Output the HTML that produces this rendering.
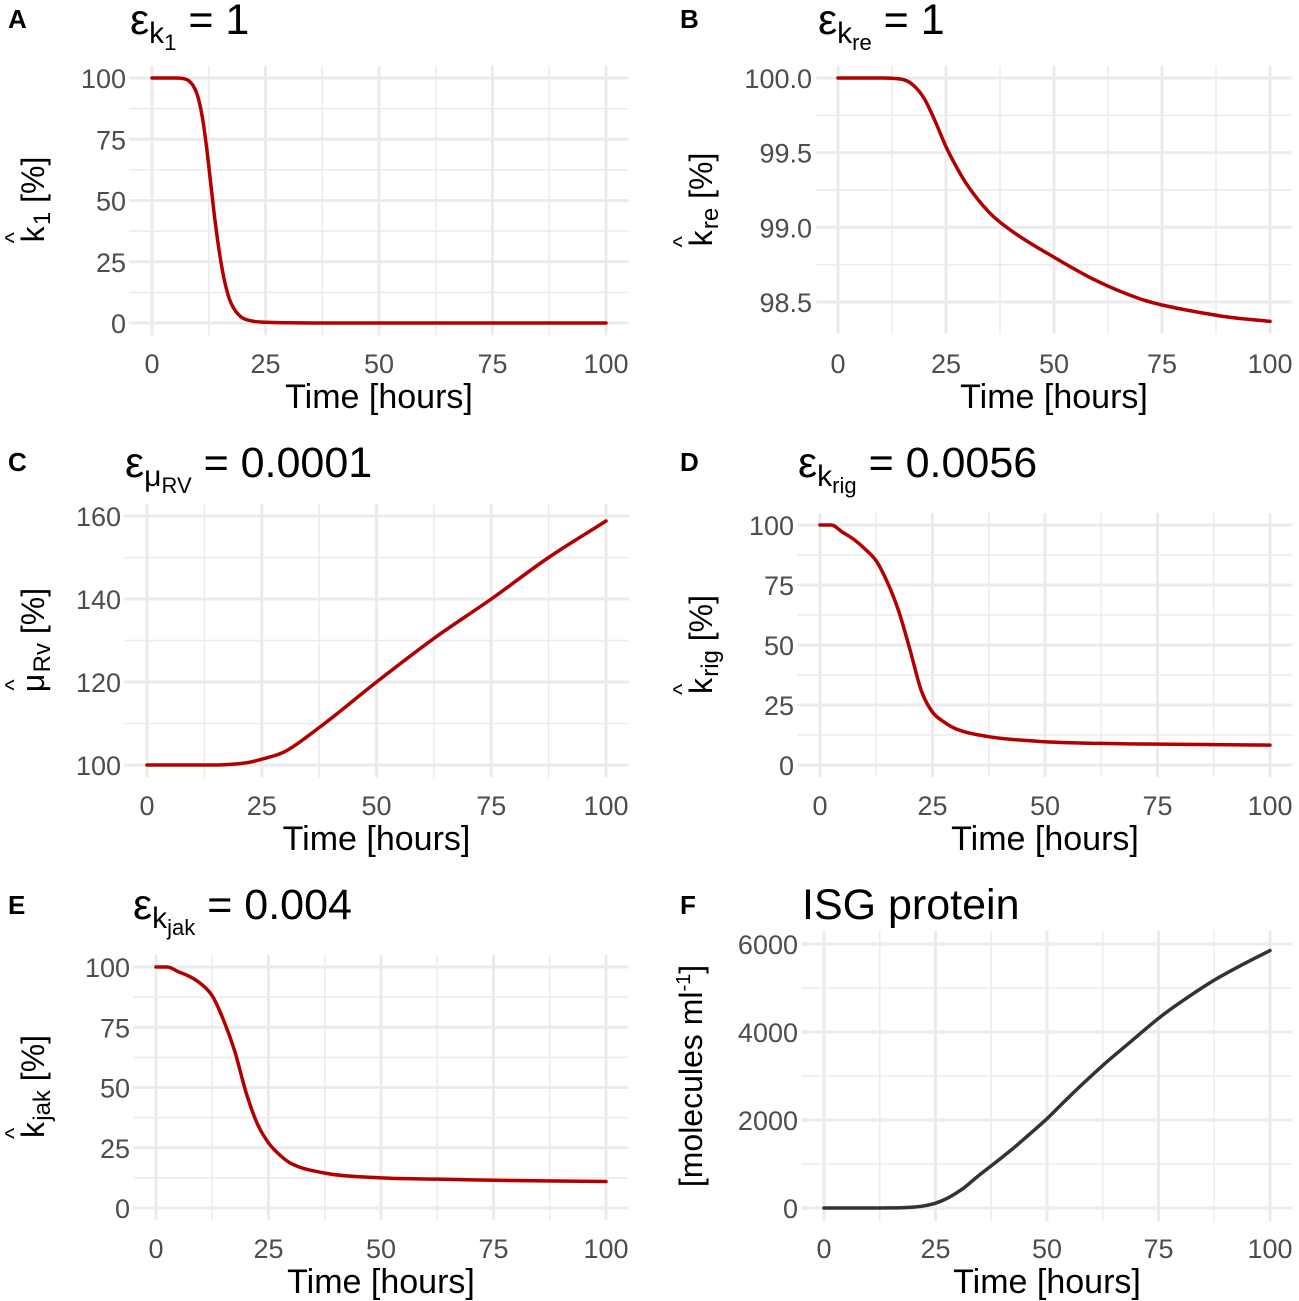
<!DOCTYPE html>
<html><head><meta charset="utf-8"><style>
body{margin:0;background:#fff}
svg{display:block;font-family:"Liberation Sans",sans-serif}
</style></head><body>
<svg id="c" width="1299" height="1301" viewBox="0 0 1299 1301"></svg>
<script>
const timesA=[0,5,7,8,9,10,11,12,13,14,15,16,17,18,19,20,22,25,30,40,100];
const valsA=[100,100,99.7,99,97,93,85,72,56,40,27,17,10,6,3.5,2,0.8,0.3,0.1,0,0];
const timesB=[0,10,15,17.5,20,22.5,25,27.5,30,35,40,50,60,70,75,80,90,100];
const valsB=[100,100,99.99,99.95,99.86,99.71,99.54,99.4,99.28,99.1,98.98,98.8,98.64,98.52,98.48,98.45,98.4,98.37];
const timesC=[0,10,15,20,22.5,25,30,37.5,50,62.5,75,87.5,100];
const valsC=[100,100,100,100.3,100.7,101.4,103.2,109,120,130.5,140,150,158.8];
const timesD=[0,2.5,5,7.5,10,12.5,15,17.5,20,22.5,25,27.5,30,37.5,50,62.5,75,100];
const valsD=[100,100,97,94,90,85,76,64,48,31,22,18,15.2,11.8,9.7,9,8.7,8.3];
const timesE=[0,2.5,5,7.5,10,12.5,15,17.5,20,22.5,25,27.5,30,37.5,50,62.5,75,100];
const valsE=[100,100,98,96,93,88,78,65,48,35,27,22,18.5,14.5,12.5,12,11.5,11];
const timesF=[0,10,15,18,20,22.5,25,28,31,34,37.5,42,46,50,54,58,62.5,69,75,80,87.5,94,100];
const valsF=[0,0,2,8,20,50,110,240,430,680,960,1320,1670,2030,2430,2820,3240,3800,4310,4680,5180,5540,5850];
const xTicks=[0,25,50,75,100];

const NS="http://www.w3.org/2000/svg";
const svg=document.getElementById('c');
function el(tag,attrs,parent,txt){const e=document.createElementNS(NS,tag);for(const k in attrs)e.setAttribute(k,attrs[k]);if(txt!==undefined)e.textContent=txt;(parent||svg).appendChild(e);return e;}

function smoothPath(px,py){
 const n=px.length,dx=[],s=[],m=[];
 for(let i=0;i<n-1;i++){dx.push(px[i+1]-px[i]);s.push((py[i+1]-py[i])/dx[i]);}
 m[0]=s[0];m[n-1]=s[n-2];
 for(let i=1;i<n-1;i++){m[i]=(s[i-1]*s[i]<=0)?0:(s[i-1]+s[i])/2;}
 for(let i=0;i<n-1;i++){if(s[i]===0){m[i]=0;m[i+1]=0;continue;}const a=m[i]/s[i],b=m[i+1]/s[i],h=a*a+b*b;if(h>9){const t=3/Math.sqrt(h);m[i]=t*a*s[i];m[i+1]=t*b*s[i];}}
 let d='M'+px[0].toFixed(1)+','+py[0].toFixed(1);
 for(let i=0;i<n-1;i++){const h=dx[i]/3;d+='C'+(px[i]+h).toFixed(1)+','+(py[i]+m[i]*h).toFixed(1)+' '+(px[i+1]-h).toFixed(1)+','+(py[i+1]-m[i+1]*h).toFixed(1)+' '+px[i+1].toFixed(1)+','+py[i+1].toFixed(1);}
 return d;
}

const panels=[
 {id:'a',L:'A',lx:8,ly:28,tx:130,ty:34,title:['ε','k','1',' = 1'],x0:152,x1:606,ymin:0,ymax:100,yp0:323,yp1:78,yt:[0,25,50,75,100],fmt:v=>v,t:timesA,v:valsA,col:'#b20000',yl:['k','1'],ylx:44,ylc:200},
 {id:'b',L:'B',lx:680,ly:28,tx:818,ty:34,title:['ε','k','re',' = 1'],x0:838,x1:1270,ymin:98.5,ymax:100,yp0:302,yp1:78,yt:[98.5,99,99.5,100],fmt:v=>v.toFixed(1),t:timesB,v:valsB,col:'#b20000',yl:['k','re'],ylx:712,ylc:200,ylo:98.37,base:323},
 {id:'c',L:'C',lx:8,ly:471,tx:125,ty:477,title:['ε','μ','RV',' = 0.0001'],x0:147,x1:606,ymin:100,ymax:160,yp0:765,yp1:516,yt:[100,120,140,160],fmt:v=>v,t:timesC,v:valsC,col:'#b20000',yl:['μ','Rv'],ylx:44,ylc:640},
 {id:'d',L:'D',lx:680,ly:471,tx:798,ty:477,title:['ε','k','rig',' = 0.0056'],x0:820,x1:1270,ymin:0,ymax:100,yp0:765,yp1:525,yt:[0,25,50,75,100],fmt:v=>v,t:timesD,v:valsD,col:'#b20000',yl:['k','rig'],ylx:712,ylc:645},
 {id:'e',L:'E',lx:8,ly:914,tx:133,ty:919,title:['ε','k','jak',' = 0.004'],x0:156,x1:606,ymin:0,ymax:100,yp0:1208,yp1:967,yt:[0,25,50,75,100],fmt:v=>v,t:timesE,v:valsE,col:'#b20000',yl:['k','jak'],ylx:44,ylc:1087},
 {id:'f',L:'F',lx:680,ly:914,tx:802,ty:919,title:null,x0:824,x1:1270,ymin:0,ymax:6000,yp0:1208,yp1:944,yt:[0,2000,4000,6000],fmt:v=>v,t:timesF,v:valsF,col:'#333333',yl:null,ylx:702,ylc:1076}
];

panels.forEach(p=>{
 const g=el('g',{});
 
 
 const sx=v=>p.x0+(v-0)/100*(p.x1-p.x0);
 const sy=v=>p.yp0+(v-p.ymin)/(p.ymax-p.ymin)*(p.yp1-p.yp0);
 const lo=p.ylo!==undefined?p.ylo:p.ymin;
 const base=p.base||p.yp0;
 const dr=(p.ymax-lo)*0.05;
 const gx0=sx(-5),gx1=sx(105),gyTop=sy(p.ymax+dr),gyBot=sy(lo-dr);
 const gg=el('g',{},g);
 
 
 const step=p.yt[1]-p.yt[0];
 for(let i=0;i<p.yt.length-1;i++){const y=sy(p.yt[i]+step/2);el('line',{x1:gx0,x2:gx1,y1:y,y2:y,stroke:'#ebebeb','stroke-width':1.5},gg);}
 for(let i=0;i<xTicks.length-1;i++){const x=sx(xTicks[i]+12.5);el('line',{x1:x,x2:x,y1:gyTop,y2:gyBot,stroke:'#ebebeb','stroke-width':1.5},gg);}
 p.yt.forEach(v=>{const y=sy(v);el('line',{x1:gx0,x2:gx1,y1:y,y2:y,stroke:'#ebebeb','stroke-width':3},gg);
  const t=el('text',{x:p.x0-26,y:y+10,'text-anchor':'end','font-size':27,fill:'#4d4d4d'},g,p.fmt(v));
  });
 xTicks.forEach(v=>{const x=sx(v);el('line',{x1:x,x2:x,y1:gyTop,y2:gyBot,stroke:'#ebebeb','stroke-width':3},gg);
  const t=el('text',{x:x,y:base+50,'text-anchor':'middle','font-size':27,fill:'#4d4d4d'},g,v);
  });
 const xt=el('text',{x:(p.x0+p.x1)/2,y:base+85,'text-anchor':'middle','font-size':34,fill:'#000'},g,'Time [hours]');
 
 const line=el('path',{d:smoothPath(p.t.map(sx),p.v.map(sy)),fill:'none',stroke:p.col,'stroke-width':3.5,'stroke-linejoin':'round','stroke-linecap':'round'},g);
 
 const L=el('text',{x:p.lx,y:p.ly,'font-size':26,'font-weight':'bold',fill:'#000'},g,p.L);
 
 const T=el('text',{x:p.tx,y:p.ty,'font-size':43,fill:'#000'},g);
 
 if(p.title){
  el('tspan',{},T,p.title[0]);
  el('tspan',{'font-size':30,dy:9},T,p.title[1]);
  el('tspan',{'font-size':22,dy:7},T,p.title[2]);
  el('tspan',{dy:-16},T,p.title[3].replace(' = ','  =  '));
 } else T.textContent='ISG protein';
 const Y=el('text',{transform:`translate(${p.ylx},${p.ylc}) rotate(-90)`,'text-anchor':'middle','font-size':32,fill:'#000'},g);
 
 if(p.yl){
  el('tspan',{},Y,p.yl[0]);
  el('tspan',{'font-size':24,dx:-17,dy:-22},Y,'^');
  el('tspan',{'font-size':24,dx:7,dy:28},Y,p.yl[1]);
  el('tspan',{dy:-6},Y,'  [%]');
 } else {
  el('tspan',{},Y,'[molecules ml');
  el('tspan',{'font-size':20,dy:-12},Y,'-1');
  el('tspan',{dy:12},Y,']');
 }
});
</script>
</body></html>
